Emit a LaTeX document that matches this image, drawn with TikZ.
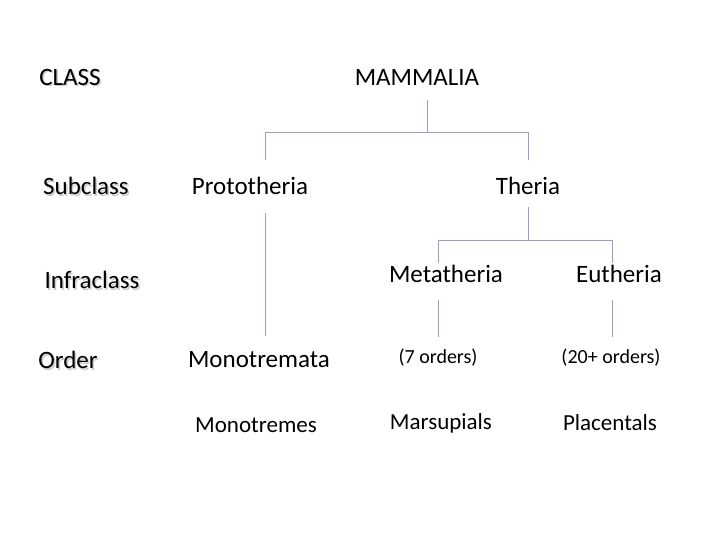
\documentclass[tikz,border=0pt]{standalone}
\usepackage{fontspec}
\setmainfont{Carlito}
\begin{document}
\begin{tikzpicture}[x=1pt,y=-1pt,
  lab/.style={font=\fontsize{25}{28}\selectfont, inner sep=0pt},
  rank/.style={lab, preaction={}},
  small/.style={font=\fontsize{20}{24}\selectfont, inner sep=0pt},
  mid/.style={font=\fontsize{23}{26}\selectfont, inner sep=0pt},
  ln/.style={draw=gray!70!blue!60, line width=0.8pt}]
\useasboundingbox (0,0) rectangle (720,540);
% shadows for rank labels
\foreach \t/\x/\y in {CLASS/70/77, Subclass/86/186, Infraclass/92/280, Order/68/360}
  \node[lab, text=black!20] at (\x+1.5,\y+1.5) {\t};
\node[lab] (class) at (70,77) {CLASS};
\node[lab] (subclass) at (86,186) {Subclass};
\node[lab] (infra) at (92,280) {Infraclass};
\node[lab] (order) at (68,360) {Order};
\node[lab] (mam) at (417,77) {MAMMALIA};
\node[lab] (proto) at (250,186) {Prototheria};
\node[lab] (theria) at (528,186) {Theria};
\node[lab] (meta) at (446,274) {Metatheria};
\node[lab] (eu) at (619,274) {Eutheria};
\node[lab] (mono) at (259,360) {Monotremata};
\node[small] (o7) at (438,358) {(7 orders)};
\node[small] (o20) at (611,358) {(20+ orders)};
\node[mid] (mt) at (256,425) {Monotremes};
\node[mid] (ma) at (441,423) {Marsupials};
\node[mid] (pl) at (610,423) {Placentals};
\coordinate (a1) at (427,100); \coordinate (a2) at (427,132);
\coordinate (b1) at (265,132); \coordinate (b2) at (265,160);
\coordinate (c1) at (528,132); \coordinate (c2) at (528,160);
\draw[ln] (a1) -- (a2) (b2) -- (b1) -- (c1) -- (c2);
\coordinate (d1) at (528,207); \coordinate (d2) at (528,240);
\coordinate (e1) at (438,240); \coordinate (e2) at (438,263);
\coordinate (f1) at (612,240); \coordinate (f2) at (612,263);
\draw[ln] (d1) -- (d2) (e2) -- (e1) -- (f1) -- (f2);
\coordinate (g1) at (265,213); \coordinate (g2) at (265,336);
\draw[ln] (g1) -- (g2);
\coordinate (h1) at (438,300); \coordinate (h2) at (438,337);
\coordinate (i1) at (612,300); \coordinate (i2) at (612,337);
\draw[ln] (h1) -- (h2) (i1) -- (i2);
\end{tikzpicture}
\end{document}
